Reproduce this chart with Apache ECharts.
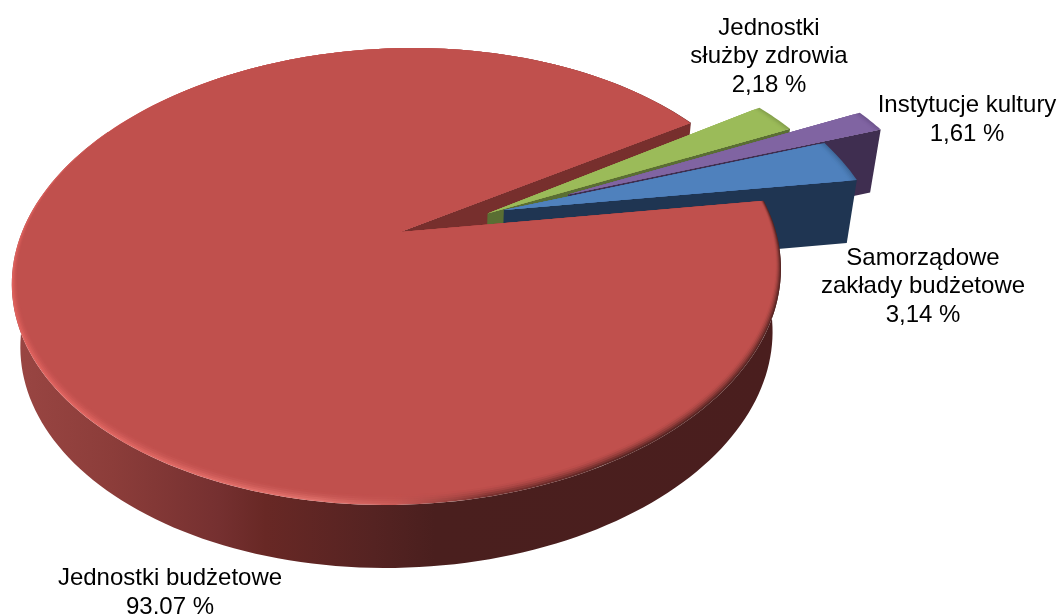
<!DOCTYPE html>
<html><head><meta charset="utf-8">
<style>html,body{margin:0;padding:0;background:#fff}#c{width:1061px;height:614px}</style>
<script src="https://cdn.jsdelivr.net/npm/echarts@6/dist/echarts.min.js"></script>
</head><body><div id="c"></div>
<script>
const categories = ['Samorządowe zakłady budżetowe','Instytucje kultury','Jednostki służby zdrowia','Jednostki budżetowe'];
const values = [3.14, 1.61, 2.18, 93.07];
const labelLines = [['Samorządowe','zakłady budżetowe'],['Instytucje kultury'],['Jednostki','służby zdrowia'],['Jednostki budżetowe']];
const labelCenter = [[923,244],[967,91.5],[769,14],[170,564.5]];
const explode = [[0.281,0.102],[0.461,0.176],[0.236,0.086],[0,0]];
const topColor = ['#4F81BD','#8064A2','#9BBB59','#C0504D'];
const rimColor = ['#3f6c9f','#6f558f','#86a24c','#e0625e'];
const faceColor = ['#1F3552','#3F2E50','#5A6E33','#772F2D'];

const startAngle = 8.4, R = 377, CX = 400, CY = 232, B = -174.65, C = 0.1947;
const softSteps = [0.3, 0.4, 0.5, 0.7, 1];
const rad = d => d * Math.PI / 180;
function projTop(u, v) { const w = 1 + C * v; return [CX + R * u / w, (CY + B * v) / w]; }
function projMain(u, v) { const p = projTop(u, v); return [p[0] - 1 + 13.5 * v, p[1]]; }
function projBottom(p) { return [CX + (p[0] - CX) * 0.978, p[1] + 63]; }
function arc(a, b, off, f) {
  const pts = [], n = Math.max(8, Math.ceil(Math.abs(b - a) / 1.5));
  for (let i = 0; i <= n; i++) {
    const t = rad(a + (b - a) * i / n);
    pts.push(f(off[0] + Math.cos(t), off[1] + Math.sin(t)));
  }
  return pts;
}
const sum = values.reduce((s, x) => s + x, 0);
function span(i) {
  let a = startAngle;
  for (let k = 0; k < i; k++) a += values[k] / sum * 360;
  return [a, a + values[i] / sum * 360];
}
const poly = (points, fill, z2, extra) => ({ type: 'polygon', silent: true, z2, shape: { points }, style: Object.assign({ fill }, extra || {}) });
const LG = (stops) => new echarts.graphic.LinearGradient(0, 0, 1, 0, stops.map(s => ({ offset: s[0], color: s[1] })));
const layer = { 2: 10, 1: 20, 0: 30, 3: 40 };

function renderItem(params, api) {
  const i = params.dataIndex;
  const [a, b] = span(i);
  const off = explode[i];
  const apex = projTop(off[0], off[1]);
  const ch = [];
  const z = layer[i];
  if (i === 3) {
    const tip = projMain(Math.cos(rad(a)), Math.sin(rad(a)));
    ch.push(poly([apex, tip, projBottom(tip), projBottom(apex)], faceColor[i], 1));
    const upper = arc(150, b, off, projMain);
    const lower = upper.map(projBottom).reverse();
    ch.push(poly(upper.concat(lower), LG([
      [0, '#9a4643'], [0.13, '#8c3d3a'], [0.27, '#753030'], [0.33, '#682825'], [0.47, '#552322'], [0.55, '#4a1f1e'], [1, '#4a1e1e']
    ]), z));
    ch.push(poly([apex].concat(arc(a, b, off, projMain)), LG([[0, '#e0625e'], [0.4, '#e0716c'], [0.5, '#c85a56'], [0.62, '#7a3230'], [0.8, '#5a2624'], [1, '#5a2624']]), z + 1));
    softSteps.forEach((op, k) => {
      const inset = 0.03 * (k + 1) / softSteps.length;
      const inner = [apex].concat(arc(a, b, off, (u, v) => {
        const s = 1 - inset * Math.pow((1 - v) / 2, 1.5);
        return projMain(u * s, v * s);
      }));
      ch.push(poly(inner, topColor[i], z + 2 + k, { opacity: op }));
    });
  } else {
    const t0 = arc(a, a, off, projTop)[0];
    ch.push(poly([apex, t0, projBottom(t0), projBottom(apex)], faceColor[i], z));
    ch.push(poly([apex].concat(arc(a, b, off, projTop)), rimColor[i], z + 1));
    softSteps.forEach((op, k) => {
      const s = 1 - 0.025 * (k + 1) / softSteps.length;
      const inner = [apex].concat(arc(a, b, off, (u, v) => projTop(off[0] + (u - off[0]) * s, off[1] + (v - off[1]) * s)));
      ch.push(poly(inner, topColor[i], z + 2 + k, { opacity: op }));
    });
  }
  const lines = labelLines[i].concat([api.value(0).toFixed(2).replace('.', ',') + ' %']);
  ch.push({
    type: 'text', silent: true, z2: 100,
    style: {
      x: labelCenter[i][0], y: labelCenter[i][1], text: lines.join('\n'),
      fill: '#000', font: '24px "Liberation Sans", Arial, sans-serif',
      align: 'center', verticalAlign: 'top', lineHeight: 28.5
    }
  });
  return { type: 'group', children: ch };
}

const chart = echarts.init(document.getElementById('c'), null, { renderer: 'canvas' });
chart.setOption({
  backgroundColor: '#fff',
  animation: false,
  series: [{
    type: 'custom',
    coordinateSystem: 'none',
    renderItem,
    clip: false,
    data: values.map((v, i) => ({ name: categories[i], value: [v] }))
  }]
});
</script></body></html>
